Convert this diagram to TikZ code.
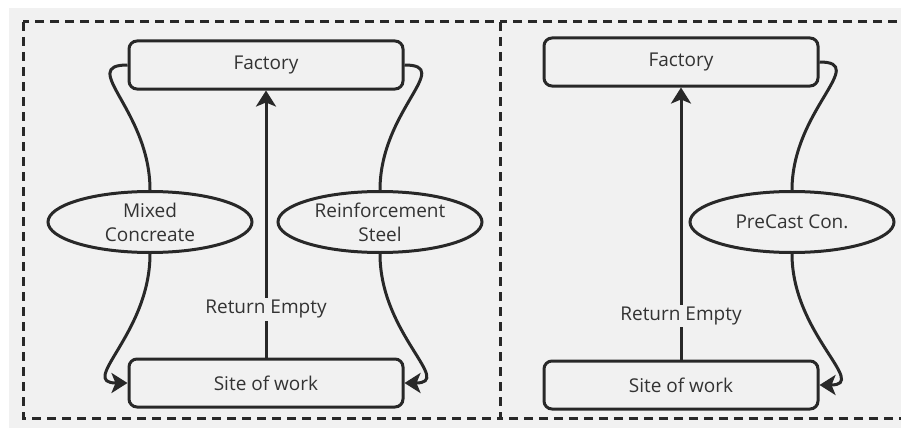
\documentclass[tikz,border=0pt]{standalone}
\usepackage{fontspec}
\setmainfont{Open Sans}
\usepackage{xcolor}
\usepackage{tikz}
\usetikzlibrary{arrows.meta,calc,positioning,shapes.geometric}
\definecolor{inkgrey}{RGB}{40,40,40}
\definecolor{textgrey}{RGB}{51,51,51}
\definecolor{boardgrey}{RGB}{241,241,241}
\tikzset{
  place/.style={draw=inkgrey,line width=3pt,rounded corners=8pt,fill=boardgrey,
    minimum width=274pt,minimum height=48pt,inner sep=2pt,
    text=textgrey,font=\fontsize{19}{24}\selectfont},
  load/.style={ellipse,draw=inkgrey,line width=3pt,fill=boardgrey,
    minimum width=204pt,minimum height=61pt,inner sep=0pt,align=center,
    text=textgrey,font=\fontsize{19}{24}\selectfont},
  haul/.style={line width=3pt,draw=inkgrey},
  delivery/.style={haul,-{Stealth[length=16pt,width=20pt,inset=4pt]}},
  tag/.style={fill=boardgrey,inner sep=2pt,text=textgrey,
    font=\fontsize{19}{24}\selectfont},
  panel/.style={draw=inkgrey,line width=3pt,dash pattern=on 9pt off 6pt}
}

\begin{document}
\begin{tikzpicture}[x=1pt,y=-1pt]
  \useasboundingbox (0,0) rectangle (901,428);
  \fill[boardgrey] (9,8) rectangle (901,428);
  \begin{scope}
    \clip (9,8) rectangle (901,428);
    \draw[panel] (23,22) rectangle (500,418);
    \draw[panel] (500,22) rectangle (910,418);
  \end{scope}

  % cast in place
  \node[place] (facL) at (266,65) {Factory};
  \node[place,below=267pt of facL] (siteL) {Site of work};
  \node[load] (mixed) at (150,222) {Mixed\\Concreate};
  \node[load] (rebar) at (380,222) {Reinforcement\\Steel};
  \draw[delivery] (siteL) -- node[tag,pos=0.18] (retL) {Return Empty} (facL);
  \draw[haul] (facL.west) .. controls +(-50,0) and +(0,-80) .. (mixed.north);
  \draw[delivery] (mixed.south) .. controls +(0,80) and +(-50,0) .. (siteL.west);
  \draw[haul] (facL.east) .. controls +(50,0) and +(0,-80) .. (rebar.north);
  \draw[delivery] (rebar.south) .. controls +(0,80) and +(50,0) .. (siteL.east);

  % precast
  \node[place] (facR) at (681,62) {Factory};
  \node[place,below=272pt of facR] (siteR) {Site of work};
  \node[load] (precast) at (792,222) {PreCast Con.};
  \draw[delivery] (siteR) -- node[tag,pos=0.16] (retR) {Return Empty} (facR);
  \draw[haul] (facR.east) .. controls +(50,0) and +(0,-80) .. (precast.north);
  \draw[delivery] (precast.south) .. controls +(0,80) and +(50,0) .. (siteR.east);
\end{tikzpicture}
\end{document}
